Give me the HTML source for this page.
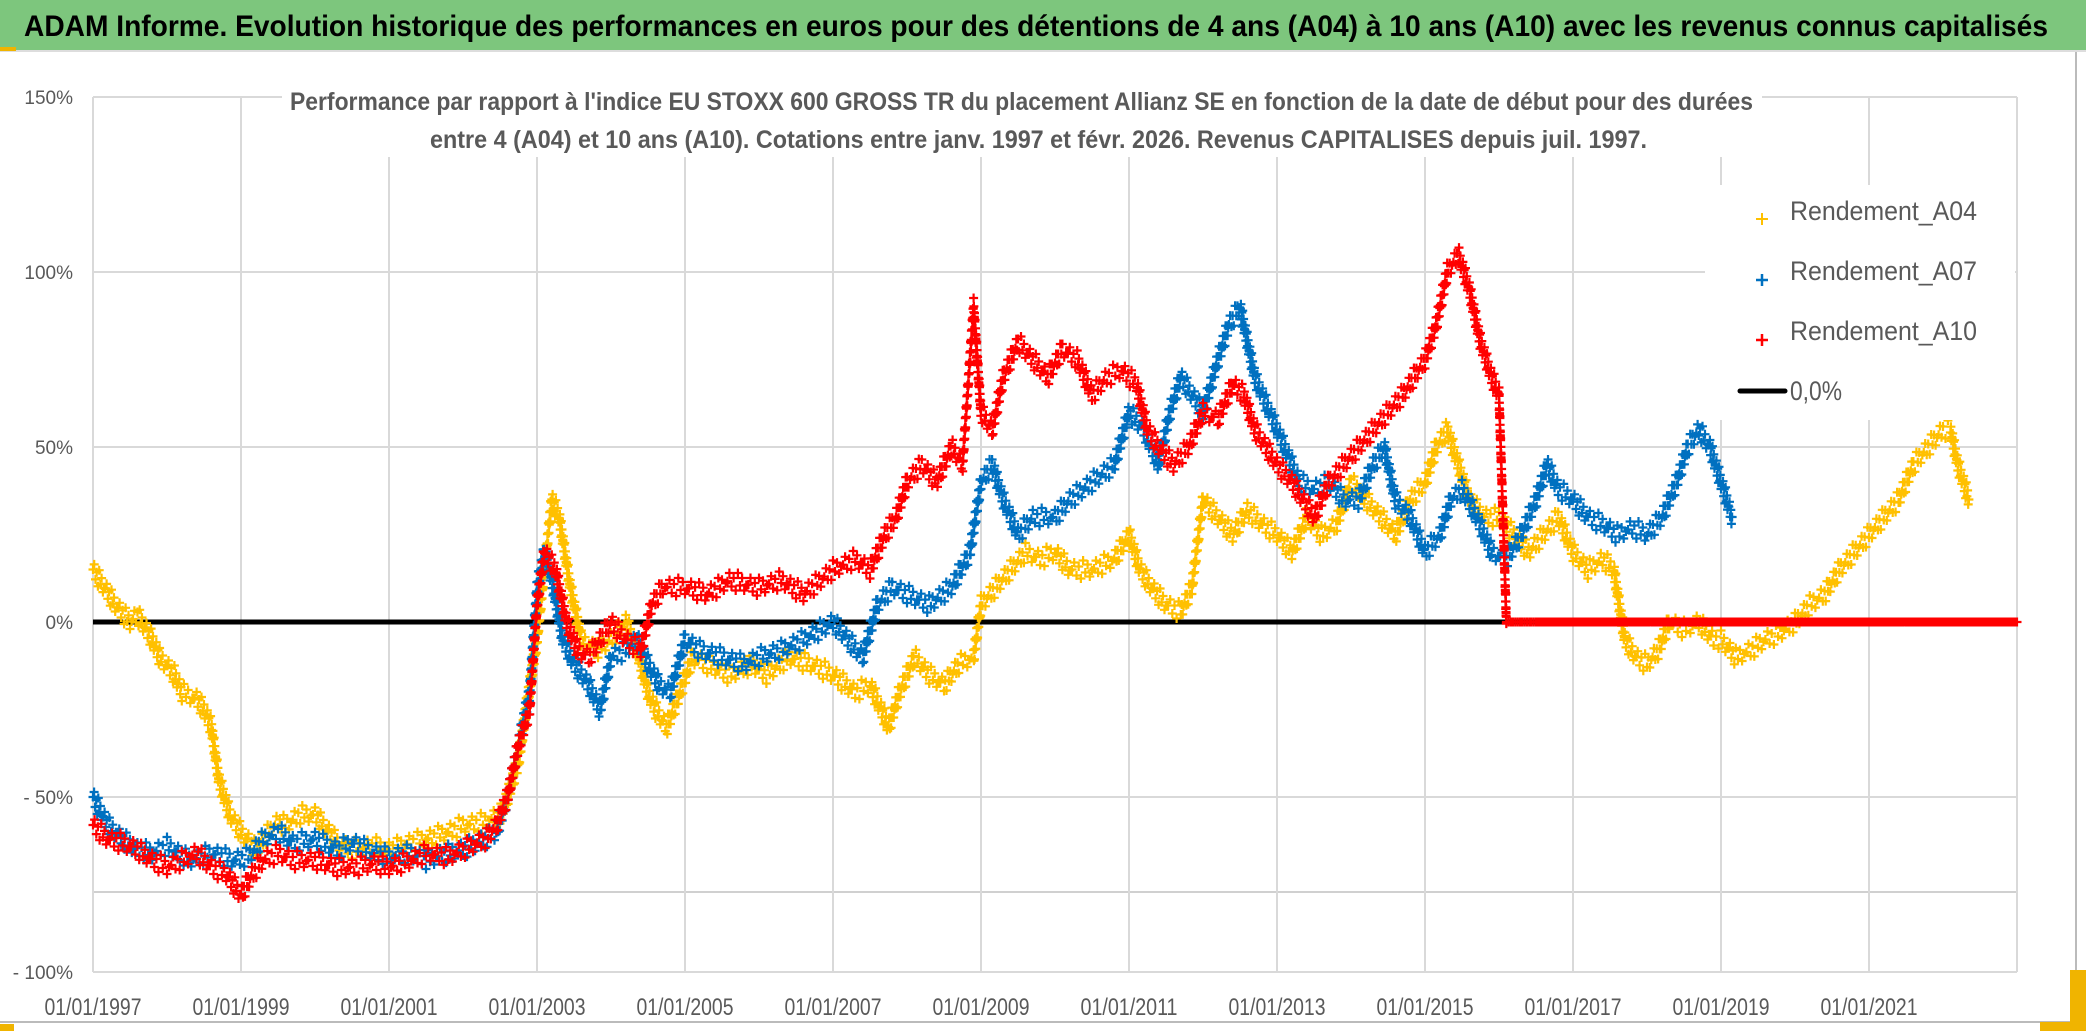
<!DOCTYPE html>
<html><head><meta charset="utf-8"><style>
html,body{margin:0;padding:0;background:#fff;width:2086px;height:1031px;overflow:hidden}
svg text{font-family:"Liberation Sans",sans-serif}
</style></head><body>
<svg id="chart" width="2086" height="1031" viewBox="0 0 2086 1031" xmlns="http://www.w3.org/2000/svg">
<rect x="0" y="0" width="2086" height="1031" fill="#fff"/>
<rect x="0" y="0" width="2086" height="50" fill="#7dc67d"/>
<line x1="0" y1="51" x2="2086" y2="51" stroke="#ddd" stroke-width="2"/>
<rect x="0" y="47" width="16" height="4" fill="#f0b400"/>
<text x="24" y="36" font-size="30" font-weight="bold" fill="#000" textLength="2024" lengthAdjust="spacingAndGlyphs">ADAM Informe. Evolution historique des performances en euros pour des détentions de 4 ans (A04) à 10 ans (A10) avec les revenus connus capitalisés</text>
<g id="grid"></g>
<g id="plot"></g>
<rect x="282" y="82" width="1480" height="75" fill="#fff"/>
<text x="290" y="110" font-size="25" font-weight="bold" fill="#595959" textLength="1463" lengthAdjust="spacingAndGlyphs">Performance par rapport à l'indice EU STOXX 600 GROSS TR  du placement Allianz SE en fonction de la date de début pour des durées</text>
<text x="430" y="148" font-size="25" font-weight="bold" fill="#595959" textLength="1217" lengthAdjust="spacingAndGlyphs">entre 4 (A04) et 10 ans (A10). Cotations entre janv. 1997 et févr. 2026. Revenus CAPITALISES depuis juil. 1997.</text>
<g id="legend">
<rect x="1705" y="185" width="310" height="235" fill="#fff"/>
<g><path d="M1762 213v12M1756 219h12" stroke="#ffc000" stroke-width="2"/><text x="1790" y="220" font-size="27" fill="#595959" textLength="187" lengthAdjust="spacingAndGlyphs">Rendement_A04</text></g>
<g><path d="M1762 274v12M1756 280h12" stroke="#0070c0" stroke-width="2.5"/><text x="1790" y="280" font-size="27" fill="#595959" textLength="187" lengthAdjust="spacingAndGlyphs">Rendement_A07</text></g>
<g><path d="M1762 334v12M1756 340h12" stroke="#ff0000" stroke-width="2.5"/><text x="1790" y="340" font-size="27" fill="#595959" textLength="187" lengthAdjust="spacingAndGlyphs">Rendement_A10</text></g>
<g><line x1="1740" y1="391" x2="1785" y2="391" stroke="#000" stroke-width="5" stroke-linecap="round"/><text x="1790" y="400" font-size="27" fill="#595959" textLength="52" lengthAdjust="spacingAndGlyphs">0,0%</text></g>
</g>
<line x1="2076" y1="52" x2="2076" y2="1022" stroke="#bbb" stroke-width="2"/>
<line x1="0" y1="1022" x2="2076" y2="1022" stroke="#bbb" stroke-width="2"/>
<rect x="2070" y="970" width="16" height="61" fill="#f0b400"/>
<rect x="2040" y="1022" width="46" height="9" fill="#f0b400"/>
<rect x="0" y="1024" width="14" height="7" fill="#f0b400"/>
</svg>
<script>
// ---- data ----
var yTicks=[150,100,50,0,-50,-100];
var yTickLabels=["150%","100%","50%","0%","- 50%","- 100%"];
var xTickYears=[1997,1999,2001,2003,2005,2007,2009,2011,2013,2015,2017,2019,2021];
var xTickLabels=["01/01/1997","01/01/1999","01/01/2001","01/01/2003","01/01/2005","01/01/2007","01/01/2009","01/01/2011","01/01/2013","01/01/2015","01/01/2017","01/01/2019","01/01/2021"];
var a04Years=[1997.0,1997.15,1997.3,1997.5,1997.6,1997.8,1997.9,1998.1,1998.2,1998.4,1998.5,1998.6,1998.7,1998.85,1999.0,1999.2,1999.3,1999.5,1999.6,1999.8,2000.0,2000.3,2000.5,2000.8,2001.0,2001.3,2001.5,2001.8,2002.0,2002.3,2002.5,2002.6,2002.75,2002.85,2003.0,2003.1,2003.2,2003.3,2003.45,2003.6,2003.8,2004.0,2004.2,2004.35,2004.5,2004.6,2004.75,2004.9,2005.1,2005.3,2005.6,2005.9,2006.1,2006.4,2006.7,2007.0,2007.3,2007.5,2007.65,2007.75,2007.9,2008.1,2008.3,2008.5,2008.7,2008.9,2009.0,2009.2,2009.4,2009.6,2009.8,2010.0,2010.2,2010.5,2010.8,2011.0,2011.15,2011.3,2011.5,2011.7,2011.85,2012.0,2012.2,2012.4,2012.6,2012.8,2013.0,2013.2,2013.4,2013.6,2013.8,2014.0,2014.2,2014.4,2014.6,2014.8,2015.0,2015.15,2015.3,2015.45,2015.6,2015.8,2016.0,2016.2,2016.4,2016.6,2016.8,2017.0,2017.2,2017.4,2017.55,2017.7,2017.85,2018.0,2018.15,2018.3,2018.5,2018.7,2018.9,2019.0,2019.2,2019.4,2019.6,2019.8,2020.0,2020.2,2020.4,2020.6,2020.8,2021.0,2021.2,2021.4,2021.6,2021.8,2022.0,2022.1,2022.2,2022.35];
var a04Values=[15,10,5,0,2,-5,-10,-15,-20,-22,-25,-30,-45,-55,-60,-65,-62,-57,-58,-55,-55,-63,-65,-64,-65,-63,-62,-60,-58,-57,-55,-50,-40,-25,-5,15,35,30,10,-5,-8,-5,0,-8,-20,-25,-30,-22,-10,-12,-15,-12,-15,-10,-12,-15,-20,-18,-25,-30,-20,-10,-15,-18,-12,-10,5,10,15,20,18,20,15,15,18,25,15,10,5,3,10,35,30,25,32,28,25,20,30,25,28,40,35,30,25,35,40,50,55,45,35,30,30,25,20,25,30,20,15,18,15,-5,-10,-12,-8,0,-2,0,-5,-5,-10,-8,-5,-3,0,5,8,15,20,25,30,35,45,50,55,55,45,35];
var a07Years=[1997.0,1997.2,1997.4,1997.6,1997.8,1998.0,1998.3,1998.6,1998.9,1999.1,1999.3,1999.5,1999.7,2000.0,2000.3,2000.5,2000.8,2001.0,2001.3,2001.5,2001.8,2002.0,2002.3,2002.45,2002.6,2002.75,2002.9,2003.0,2003.1,2003.2,2003.35,2003.5,2003.7,2003.85,2004.0,2004.2,2004.35,2004.5,2004.65,2004.8,2005.0,2005.2,2005.5,2005.8,2006.0,2006.3,2006.6,2007.0,2007.2,2007.4,2007.6,2007.8,2008.0,2008.3,2008.6,2008.85,2009.0,2009.15,2009.3,2009.5,2009.7,2010.0,2010.2,2010.5,2010.8,2011.0,2011.2,2011.4,2011.55,2011.7,2011.85,2012.0,2012.2,2012.35,2012.5,2012.7,2012.9,2013.1,2013.3,2013.5,2013.7,2013.9,2014.1,2014.3,2014.45,2014.6,2014.8,2015.0,2015.2,2015.35,2015.5,2015.7,2015.9,2016.1,2016.3,2016.5,2016.65,2016.8,2017.0,2017.2,2017.4,2017.6,2017.8,2018.0,2018.2,2018.4,2018.55,2018.7,2018.85,2019.0,2019.15];
var a07Values=[-50,-58,-62,-65,-66,-64,-68,-66,-68,-67,-62,-60,-63,-62,-65,-63,-66,-67,-66,-68,-66,-65,-62,-60,-50,-35,-20,10,20,12,-5,-12,-18,-25,-10,-8,-5,-12,-18,-20,-5,-8,-10,-12,-10,-8,-5,0,-5,-10,5,10,8,5,10,20,40,45,35,25,30,30,35,40,45,60,55,45,60,70,65,60,75,85,90,70,60,50,40,38,40,35,35,45,50,35,30,20,25,35,38,30,20,18,25,35,45,38,35,30,28,25,27,25,30,40,50,55,50,40,30];
var a10Years=[1997.0,1997.2,1997.4,1997.6,1997.8,1998.0,1998.2,1998.4,1998.6,1998.8,1999.0,1999.15,1999.3,1999.5,1999.7,2000.0,2000.3,2000.5,2000.8,2001.0,2001.3,2001.5,2001.8,2002.0,2002.3,2002.45,2002.6,2002.75,2002.9,2003.0,2003.1,2003.25,2003.4,2003.55,2003.7,2003.85,2004.0,2004.2,2004.4,2004.55,2004.7,2005.0,2005.3,2005.6,2006.0,2006.3,2006.6,2007.0,2007.3,2007.5,2007.7,2007.85,2008.0,2008.2,2008.4,2008.6,2008.75,2008.9,2009.0,2009.15,2009.3,2009.5,2009.7,2009.9,2010.1,2010.3,2010.5,2010.7,2010.9,2011.1,2011.25,2011.4,2011.6,2011.8,2012.0,2012.2,2012.4,2012.55,2012.7,2012.85,2013.0,2013.2,2013.35,2013.5,2013.7,2013.9,2014.1,2014.3,2014.5,2014.7,2014.85,2015.0,2015.15,2015.3,2015.45,2015.6,2015.75,2015.9,2016.0,2016.1,2016.5,2017.0,2017.5,2018.0,2018.5,2019.0,2019.5,2020.0,2020.5,2021.0,2021.5,2022.0,2022.5,2023.0];
var a10Values=[-58,-62,-63,-65,-68,-70,-68,-66,-70,-72,-78,-72,-68,-66,-68,-68,-70,-70,-69,-70,-68,-66,-67,-65,-62,-58,-50,-35,-25,5,20,15,0,-8,-10,-5,0,-5,-8,5,10,10,8,12,10,12,8,15,18,15,25,30,40,45,40,50,45,90,60,55,70,80,75,70,78,75,65,70,72,68,55,50,45,50,60,58,68,65,55,50,45,40,35,30,40,45,50,55,60,65,70,75,85,100,105,95,80,70,65,0,0,0,0,0,0,0,0,0,0,0,0,0,0,0];
// ---- scales ----
var X0=93, PX_PER_YEAR=74, Y_TOP=97, Y_BOT=972;
function xs(yr){return X0+(yr-1997)*PX_PER_YEAR;}
function ys(v){return Y_TOP+(150-v)/250*(Y_BOT-Y_TOP);}
var NS="http://www.w3.org/2000/svg";
var grid=document.getElementById('grid'), plot=document.getElementById('plot'), svg=document.getElementById('chart');
var XR=xs(2023);
function mk(tag,attrs,parent){var e=document.createElementNS(NS,tag);for(var k in attrs)e.setAttribute(k,attrs[k]);parent.appendChild(e);return e;}
yTicks.forEach(function(t,i){
  var l=mk('line',{x1:X0,x2:XR,y1:ys(t),y2:ys(t),stroke:'#d9d9d9','stroke-width':2},grid);
  
  
  var tx=mk('text',{x:73,y:ys(t)+7,'font-size':19,fill:'#595959','text-anchor':'end'},svg);
  tx.textContent=yTickLabels[i];
  
  
});
var extra=mk('line',{x1:X0,x2:XR,y1:892,y2:892,stroke:'#d0d0d0','stroke-width':2},grid);


xTickYears.forEach(function(yr,i){
  var l=mk('line',{x1:xs(yr),x2:xs(yr),y1:Y_TOP,y2:Y_BOT,stroke:'#d9d9d9','stroke-width':2},grid);
  
  
  var tx=mk('text',{x:xs(yr),y:1015,'font-size':24,fill:'#595959','text-anchor':'middle',textLength:97,lengthAdjust:'spacingAndGlyphs'},svg);
  tx.textContent=xTickLabels[i];
  
  
});
var lg=mk('line',{x1:xs(2023),x2:xs(2023),y1:Y_TOP,y2:Y_BOT,stroke:'#d9d9d9','stroke-width':2},grid);


var zero=mk('line',{x1:X0,x2:XR,y1:ys(0),y2:ys(0),stroke:'#000','stroke-width':5},plot);


// marker scatter pattern (visual jitter of plus markers around the data path)
var SPREAD=[0,-7,6,-3,9,-9,3,-5,7,1];
function series(years,vals,color,name){
  var d='',k=0;
  for(var i=0;i<years.length-1;i++){
    var x1=xs(years[i]),y1=ys(vals[i]),x2=xs(years[i+1]),y2=ys(vals[i+1]);
    var flat=(vals[i]===0&&vals[i+1]===0);
    var len=Math.sqrt((x2-x1)*(x2-x1)+(y2-y1)*(y2-y1));
    var n=Math.max(1,Math.round(len/2.2));
    for(var j=0;j<n;j++){var t=j/n;var px=x1+(x2-x1)*t,py=y1+(y2-y1)*t;
      var off=flat?0:SPREAD[k%SPREAD.length];k++;
      py+=off;
      d+='M'+(px-4.5).toFixed(1)+' '+py.toFixed(1)+'h9M'+px.toFixed(1)+' '+(py-4.5).toFixed(1)+'v9';}
  }
  var last=years.length-1;var px=xs(years[last]),py=ys(vals[last]);
  d+='M'+(px-4.5)+' '+py+'h9M'+px+' '+(py-4.5)+'v9';
  var p=mk('path',{d:d,stroke:color,'stroke-width':2.2,fill:'none'},plot);
  
  
}
series(a04Years,a04Values,'#ffc000','series-rendement-a04');
series(a07Years,a07Values,'#0070c0','series-rendement-a07');
series(a10Years,a10Values,'#ff0000','series-rendement-a10');
</script>
</body></html>
